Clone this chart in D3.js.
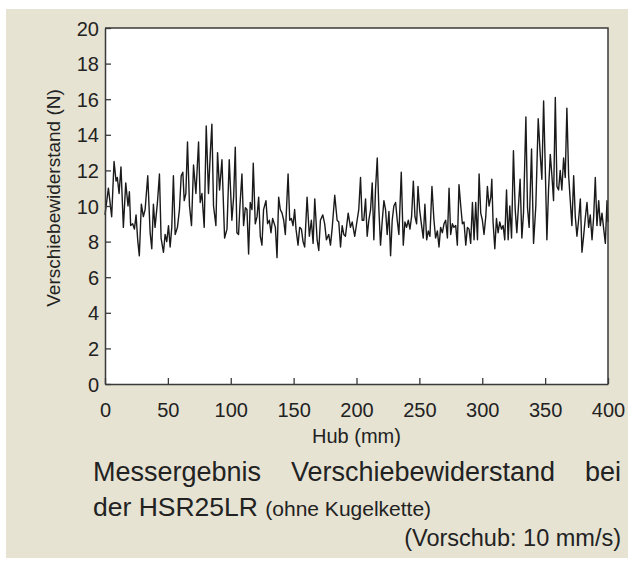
<!DOCTYPE html>
<html>
<head>
<meta charset="utf-8">
<script src="https://cdn.jsdelivr.net/npm/d3@7"></script>
<style>
  html, body { margin: 0; padding: 0; background: #ffffff; }
  svg { display: block; }
  text { font-family: "Liberation Sans", Arial, Helvetica, sans-serif; fill: #222; }
</style>
</head>
<body>
<svg id="chart" width="628" height="562"></svg>
<script>
// ---- data ----
const hubMm = [
  0, 2.7, 5.3, 7.2, 8.8, 9.8, 11.2, 12.7, 14.6, 16.5, 18.3, 19.4, 20.4, 22.0, 23.4, 24.7, 26.0, 27.3, 28.9, 30.5,
  31.9, 34.0, 35.9, 37.2, 38.5, 39.8, 41.7, 43.3, 44.6, 46.5, 47.8, 49.1, 50.5, 51.8, 53.1, 54.4, 55.8, 57.6, 59.2, 60.6,
  61.9, 63.0, 64.3, 65.6, 67.2, 68.8, 70.4, 72.3, 74.4, 75.7, 77.1, 78.9, 80.5, 82.3, 83.7, 85.0, 86.3, 88.2, 89.5, 91.1,
  93.0, 95.1, 97.0, 98.8, 100.9, 102.3, 103.6, 104.9, 106.2, 107.3, 108.9, 110.2, 111.6, 112.9, 114.2, 115.5, 116.9, 117.9, 119.5, 120.9,
  122.2, 123.5, 124.8, 126.1, 128.0, 129.3, 130.7, 132.0, 133.3, 135.5, 136.8, 138.1, 139.4, 140.8, 142.1, 143.4, 145.6, 146.9, 148.2, 149.5,
  150.8, 151.9, 153.5, 154.8, 156.2, 157.5, 158.8, 160.7, 162.5, 164.1, 165.5, 166.8, 168.7, 170.0, 171.3, 173.2, 174.7, 176.1, 177.9, 179.3,
  180.6, 182.7, 184.6, 185.9, 187.3, 188.6, 189.9, 191.2, 193.4, 195.2, 196.6, 198.6, 200.5, 201.8, 203.2, 204.5, 205.8, 207.2, 208.5, 209.8,
  211.2, 212.5, 213.8, 215.1, 216.5, 217.8, 219.1, 220.5, 221.8, 223.1, 224.4, 225.8, 227.1, 228.4, 229.7, 231.1, 232.4, 233.7, 235.6, 237.2,
  238.5, 239.8, 241.2, 242.5, 243.8, 245.2, 246.5, 247.8, 248.9, 250.2, 251.6, 253.1, 254.4, 255.8, 257.1, 258.4, 260.0, 261.6, 262.9, 264.3,
  265.6, 266.9, 268.3, 269.6, 270.9, 272.3, 273.6, 274.9, 276.2, 277.5, 278.9, 280.2, 281.5, 282.9, 284.2, 285.5, 286.9, 288.2, 289.5, 290.8,
  292.2, 293.5, 294.8, 296.2, 297.5, 298.8, 300.1, 301.4, 302.8, 304.1, 305.4, 306.8, 307.6, 308.6, 310.0, 311.3, 312.6, 313.9, 315.3, 316.6,
  317.9, 319.3, 320.6, 321.9, 323.3, 324.8, 326.2, 327.5, 328.8, 330.1, 331.5, 332.8, 334.7, 336.0, 337.3, 339.2, 340.8, 342.6, 344.5, 346.1,
  347.4, 348.8, 350.1, 351.4, 352.7, 354.1, 355.4, 356.7, 358.1, 359.4, 360.7, 362.0, 363.3, 364.7, 366.0, 367.3, 368.7, 370.0, 371.3, 372.7,
  374.0, 375.3, 376.6, 378.0, 379.3, 380.6, 381.9, 383.3, 384.6, 385.9, 387.3, 388.6, 389.9, 391.2, 392.6, 393.9, 395.2, 396.6, 397.9, 399.2,
  400
];
const forceN = [
  9.5, 11.0, 9.4, 12.5, 11.4, 11.6, 10.7, 12.2, 8.8, 11.3, 10.0, 10.8, 8.9, 9.0, 8.7, 9.5, 8.1, 7.2, 10.1, 9.4,
  9.8, 11.7, 8.5, 7.6, 10.1, 8.8, 10.2, 11.8, 8.2, 7.4, 8.4, 8.0, 8.9, 7.7, 8.8, 11.7, 8.4, 8.8, 9.8, 11.7,
  11.9, 10.3, 10.7, 13.6, 10.0, 8.9, 12.3, 10.7, 13.6, 10.2, 10.7, 8.8, 14.5, 10.7, 12.9, 14.6, 10.0, 8.9, 13.0, 10.9,
  12.6, 8.2, 8.7, 12.6, 9.2, 10.5, 13.3, 8.5, 8.4, 10.0, 11.8, 8.9, 9.9, 9.8, 7.3, 10.2, 9.8, 12.4, 9.0, 9.4,
  10.5, 8.3, 7.8, 9.8, 10.3, 9.0, 9.2, 8.5, 9.3, 8.8, 7.1, 10.5, 9.8, 9.6, 9.2, 8.4, 11.8, 9.2, 9.3, 8.9,
  9.8, 8.7, 7.8, 8.8, 8.7, 8.0, 7.7, 10.5, 8.3, 9.2, 7.9, 10.4, 8.1, 7.5, 9.2, 9.5, 9.0, 8.1, 8.4, 7.8,
  8.7, 10.6, 9.2, 9.1, 7.7, 8.9, 8.4, 8.3, 9.6, 8.8, 9.1, 8.3, 9.2, 9.8, 11.6, 9.2, 9.2, 10.4, 8.3, 9.2,
  9.8, 11.3, 8.1, 10.9, 12.7, 9.8, 7.8, 9.2, 10.3, 9.8, 8.4, 9.7, 7.2, 9.2, 10.0, 10.2, 9.2, 8.4, 11.9, 7.8,
  9.1, 8.8, 9.2, 8.7, 9.4, 11.4, 9.4, 9.0, 11.1, 9.8, 9.0, 8.2, 10.1, 8.1, 8.6, 8.3, 11.1, 9.2, 8.2, 8.6,
  7.7, 8.8, 8.5, 9.0, 9.2, 8.2, 11.0, 8.4, 9.0, 8.8, 8.9, 7.8, 11.2, 10.0, 9.0, 9.1, 7.8, 8.8, 8.7, 7.9,
  10.2, 8.1, 10.2, 8.1, 11.8, 9.6, 9.2, 8.4, 9.4, 11.1, 10.0, 10.5, 11.5, 9.1, 7.6, 9.3, 8.5, 9.1, 8.7, 8.9,
  8.1, 10.9, 8.1, 10.0, 8.2, 13.1, 9.8, 8.5, 10.0, 11.5, 8.2, 9.6, 15.0, 9.9, 8.8, 13.2, 7.9, 10.0, 14.9, 12.9,
  11.5, 15.9, 12.2, 8.1, 10.9, 12.9, 11.7, 10.3, 16.1, 11.1, 10.9, 12.0, 10.9, 12.7, 11.6, 15.5, 11.7, 10.3, 8.9, 11.7,
  9.4, 8.3, 9.2, 10.4, 7.4, 8.3, 9.3, 10.2, 8.8, 9.5, 8.1, 9.4, 11.6, 8.9, 10.3, 8.9, 9.6, 8.7, 7.9, 10.3,
  9.1
];
const xTicks = [0, 50, 100, 150, 200, 250, 300, 350, 400];
const yTicks = [0, 2, 4, 6, 8, 10, 12, 14, 16, 18, 20];
const xTitle = "Hub (mm)";
const yTitle = "Verschiebewiderstand (N)";
const captionLine1 = ["Messergebnis", "Verschiebewiderstand", "bei"];
const captionLine2Main = "der HSR25LR";
const captionLine2Small = "(ohne Kugelkette)";
const captionLine3 = "(Vorschub: 10 mm/s)";

// ---- layout ----
const svg = d3.select("#chart");
const W = 628, H = 562;
const plot = { left: 105, right: 608, top: 28, bottom: 384 };
const frameColor = "#3a3a3a";

svg.append("rect")
  .attr("x", 6).attr("y", 9)
  .attr("width", W - 6).attr("height", 549)
  .attr("fill", "#e6e3d3");

const x = d3.scaleLinear().domain([0, 400]).range([plot.left, plot.right]);
const y = d3.scaleLinear().domain([0, 20]).range([plot.bottom, plot.top]);

svg.append("rect")
  .attr("x", plot.left).attr("y", plot.top)
  .attr("width", plot.right - plot.left).attr("height", plot.bottom - plot.top)
  .attr("fill", "#ffffff");

// data line
const pts = hubMm.map((h, i) => [h, forceN[i]]);
svg.append("path")
  .datum(pts)
  .attr("fill", "none")
  .attr("stroke", "#1a1a1a")
  .attr("stroke-width", 1.4)
  .attr("stroke-linejoin", "round")
  .attr("d", d3.line().x(d => x(d[0])).y(d => y(d[1])));

// axes
const xAxis = svg.append("g")
  .attr("transform", `translate(0,${plot.bottom})`)
  .call(d3.axisBottom(x).tickValues(xTicks).tickSizeInner(-6).tickSizeOuter(0));
const yAxis = svg.append("g")
  .attr("transform", `translate(${plot.left},0)`)
  .call(d3.axisLeft(y).tickValues(yTicks).tickSizeInner(-6).tickSizeOuter(0));

[xAxis, yAxis].forEach(g => {
  g.select(".domain").attr("stroke", frameColor).attr("stroke-width", 1.5);
  g.selectAll(".tick line").attr("stroke", frameColor).attr("stroke-width", 1.3);
  g.selectAll(".tick text")
    .attr("font-family", "Liberation Sans, Arial, sans-serif")
    .attr("font-size", 20)
    .attr("fill", "#222");
});
xAxis.selectAll(".tick text").attr("y", 19).attr("dy", "0.71em");
yAxis.selectAll(".tick text").attr("x", -6).attr("dy", "0.35em");

// top & right frame
svg.append("path")
  .attr("d", `M${plot.left},${plot.top}H${plot.right}V${plot.bottom}`)
  .attr("fill", "none").attr("stroke", frameColor).attr("stroke-width", 1.5);

// axis titles
svg.append("text")
  .attr("x", (plot.left + plot.right) / 2)
  .attr("y", 443)
  .attr("text-anchor", "middle")
  .attr("font-size", 20)
  .text(xTitle);

svg.append("text")
  .attr("transform", `translate(60,198) rotate(-90)`)
  .attr("text-anchor", "middle")
  .attr("font-size", 19)
  .text(yTitle);

// caption
const capLeft = 93, capRight = 621;
const line1 = captionLine1.map(w => svg.append("text")
  .attr("y", 481).attr("font-size", 27).text(w));
const widths = line1.map(t => t.node().getComputedTextLength());
const gap = (capRight - capLeft - d3.sum(widths)) / (captionLine1.length - 1);
let cx = capLeft;
line1.forEach((t, i) => { t.attr("x", cx); cx += widths[i] + gap; });

const l2 = svg.append("text").attr("x", capLeft).attr("y", 516).attr("font-size", 26.5);
l2.append("tspan").text(captionLine2Main + " ");
l2.append("tspan").attr("font-size", 21).text(captionLine2Small);

svg.append("text")
  .attr("x", capRight).attr("y", 546)
  .attr("text-anchor", "end")
  .attr("font-size", 23.5)
  .text(captionLine3);
</script>
</body>
</html>
